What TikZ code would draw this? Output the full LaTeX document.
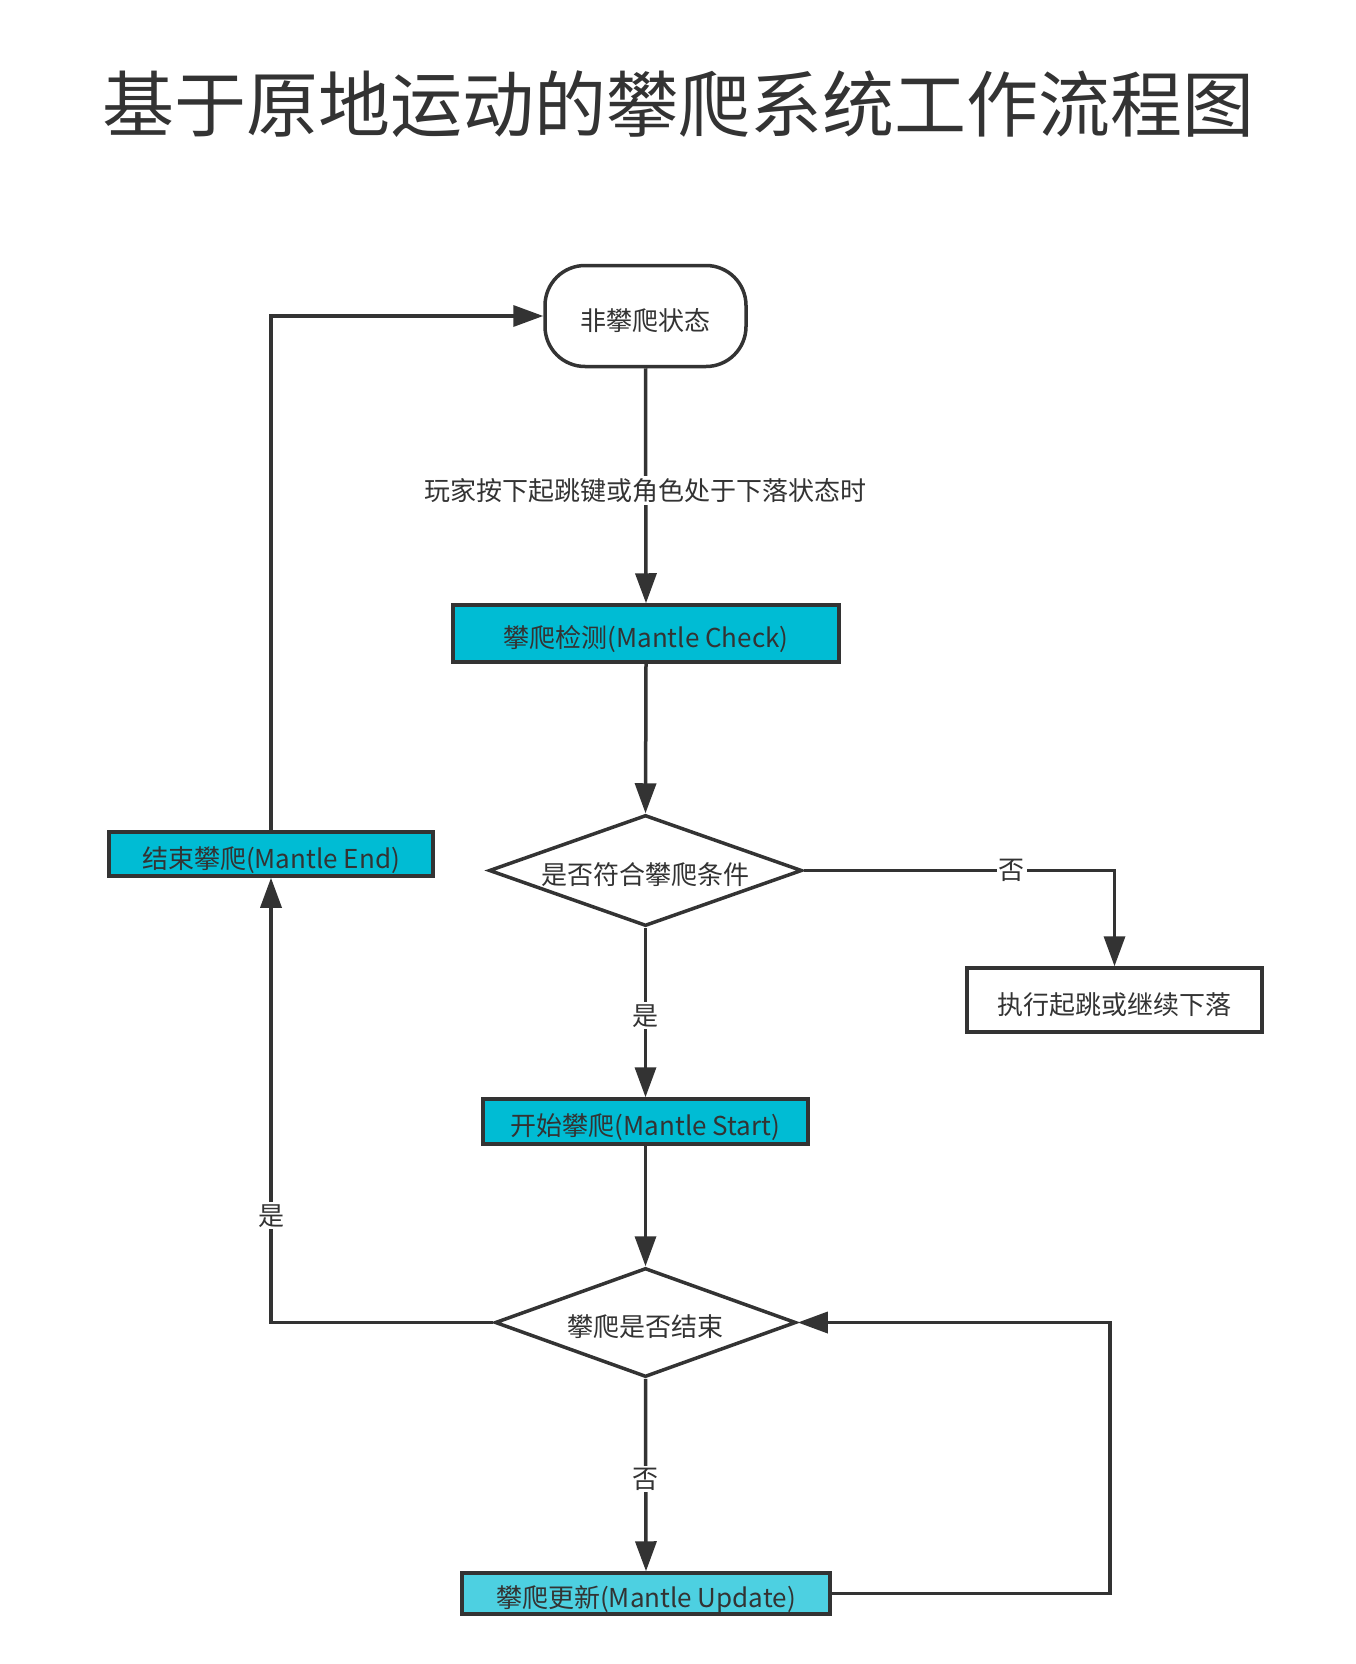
\documentclass[tikz,border=0pt]{standalone}
\usepackage{fontspec}
\setmainfont{Noto Sans CJK SC}
\usetikzlibrary{arrows.meta,shapes.geometric}
\definecolor{ink}{HTML}{333333}
\definecolor{cyanbox}{HTML}{00BCD4}
\definecolor{cyanlight}{HTML}{4DD0E1}
\tikzset{
  base/.style={draw=ink, line width=3.5pt, text=ink, font=\fontsize{26}{30}\selectfont, inner sep=0pt, text height=28pt, text depth=0pt},
  procbox/.style={base, rectangle, fill=cyanbox},
  plainbox/.style={base, rectangle, fill=white},
  termbox/.style={base, rectangle, rounded corners=40pt, fill=white},
  decision/.style={base, diamond, fill=white, aspect=2.8},
  conn/.style={draw=ink, line width=3.5pt, -{Triangle[length=30pt,width=21pt]}},
  lbl/.style={fill=white, text=ink, font=\fontsize{26}{30}\selectfont, inner sep=2pt}
}
\begin{document}
\begin{tikzpicture}[x=1pt,y=-1pt]
\useasboundingbox[fill=white] (0,0) rectangle (1356,1664);
\node[text=ink, font=\fontsize{72}{86}\selectfont] (title) at (678,104) {基于原地运动的攀爬系统工作流程图};

\node[termbox, minimum width=201pt, minimum height=101pt] (start) at (645.5,316) {非攀爬状态};
\node[procbox, minimum width=386pt, minimum height=57pt] (check) at (646,633.5) {攀爬检测(Mantle Check)};
\node[decision, minimum width=313pt, minimum height=111pt] (cond) at (645.5,870.5) {是否符合攀爬条件};
\node[plainbox, minimum width=295pt, minimum height=64pt] (jump) at (1114.5,1000) {执行起跳或继续下落};
\node[procbox, minimum width=325pt, minimum height=45pt] (mstart) at (645.5,1121.5) {开始攀爬(Mantle Start)};
\node[decision, minimum width=301pt, minimum height=109pt] (isend) at (645.5,1322.5) {攀爬是否结束};
\node[procbox, fill=cyanlight, minimum width=368pt, minimum height=41pt] (update) at (646,1593.5) {攀爬更新(Mantle Update)};
\node[procbox, minimum width=324pt, minimum height=44pt] (mend) at (271,854) {结束攀爬(Mantle End)};

\coordinate (c1) at (cond.east -| jump.north);
\coordinate (c2) at (1110,1593.5);
\coordinate (c3) at (1110,1322.5);
\coordinate (c4) at (isend.west -| mend.south);
\coordinate (c5) at (start.west -| mend.north);

\draw[conn] (start.south) -- node[lbl, pos=0.52] {玩家按下起跳键或角色处于下落状态时} (check.north);
\draw[conn] (check.south) -- (cond.north);
\draw[conn] (cond.east) -- node[lbl, pos=0.67] {否} (c1) -- (jump.north);
\draw[conn] (cond.south) -- node[lbl, pos=0.52] {是} (mstart.north);
\draw[conn] (mstart.south) -- (isend.north);
\draw[conn] (isend.south) -- node[lbl, pos=0.52] {否} (update.north);
\draw[conn] (update.east) -- (c2) -- (c3) -- (isend.east);
\draw[conn] (isend.west) -- (c4) -- node[lbl, pos=0.24] {是} (mend.south);
\draw[conn] (mend.north) -- (c5) -- (start.west);
\end{tikzpicture}
\end{document}
